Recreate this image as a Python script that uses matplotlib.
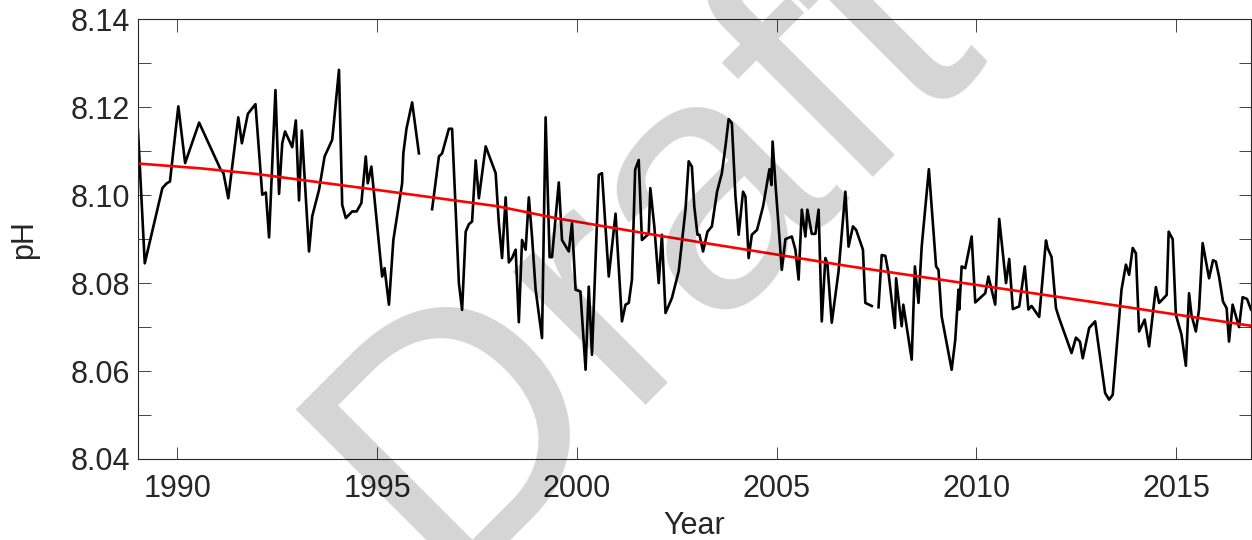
import numpy as np
import matplotlib.pyplot as plt

plt.rcParams['font.family'] = ['Liberation Sans', 'DejaVu Sans']

nan = np.nan

# pH record (nan marks a gap in the series)
year = [1989.02, 1989.19, 1989.63, 1989.74, 1989.82, 1990.03, 1990.20, 1990.55, 1991.09, 1991.16,
        1991.28, 1991.53, 1991.62, 1991.77, 1991.96, 1992.13, 1992.22, 1992.30, 1992.46, 1992.55,
        1992.63, 1992.70, 1992.88, 1992.97, 1993.05, 1993.12, 1993.30, 1993.38, 1993.55, 1993.69,
        1993.88, 1994.05, 1994.13, 1994.22, 1994.38, 1994.49, 1994.61, 1994.72, 1994.77, 1994.86,
        1995.13, 1995.19, 1995.30, 1995.41, 1995.63, 1995.66, 1995.74, 1995.88, 1996.05, nan,
        1996.38, 1996.55, 1996.63, 1996.80, 1996.88, 1997.05, 1997.13, 1997.22, 1997.30, 1997.38,
        1997.47, 1997.55, 1997.72, 1997.97, 1998.05, 1998.13, 1998.22, 1998.30, 1998.38, 1998.47,
        1998.55, 1998.63, 1998.72, 1998.80, 1998.88, 1998.97, 1999.13, 1999.22, 1999.32, 1999.38,
        1999.55, 1999.63, 1999.80, 1999.88, 1999.97, 2000.09, 2000.22, 2000.30, 2000.38, 2000.55,
        2000.63, 2000.80, 2000.97, 2001.13, 2001.22, 2001.30, 2001.38, 2001.46, 2001.55, 2001.63,
        2001.80, 2001.84, 2001.94, 2002.05, 2002.13, 2002.22, 2002.38, 2002.55, 2002.72, 2002.80,
        2002.88, 2002.94, 2003.02, 2003.07, 2003.16, 2003.27, 2003.38, 2003.51, 2003.63, 2003.72,
        2003.80, 2003.88, 2003.97, 2004.05, 2004.16, 2004.22, 2004.30, 2004.38, 2004.51, 2004.66,
        2004.82, 2004.87, 2004.90, 2004.97, 2005.13, 2005.22, 2005.38, 2005.47, 2005.55, 2005.63,
        2005.72, 2005.77, 2005.88, 2005.97, 2006.05, 2006.13, 2006.22, 2006.27, 2006.38, 2006.55,
        2006.72, 2006.80, 2006.91, 2006.99, 2007.16, 2007.22, 2007.38, nan,
        2007.55, 2007.63, 2007.72, 2007.80, 2007.96, 2007.99, 2008.07, 2008.13, 2008.17, 2008.38,
        2008.46, 2008.55, 2008.63, 2008.81, 2008.99, 2009.05, 2009.13, 2009.38, 2009.47, 2009.55,
        2009.57, 2009.63, 2009.72, 2009.88, 2009.97, 2010.22, 2010.30, 2010.47, 2010.57, 2010.74,
        2010.82, 2010.91, 2011.07, 2011.21, 2011.30, 2011.38, 2011.57, 2011.74, 2011.78, 2011.88,
        2011.99, 2012.07, 2012.38, 2012.49, 2012.59, 2012.66, 2012.82, 2012.97, 2013.22, 2013.32,
        2013.41, 2013.63, 2013.74, 2013.82, 2013.91, 2013.99, 2014.07, 2014.21, 2014.32, 2014.49,
        2014.57, 2014.76, 2014.81, 2014.91, 2014.99, 2015.13, 2015.24, 2015.32, 2015.38, 2015.49,
        2015.57, 2015.66, 2015.82, 2015.92, 2015.99, 2016.07, 2016.17, 2016.26, 2016.32, 2016.41,
        2016.57, 2016.66, 2016.77, 2016.87]

ph = [8.1148, 8.0845, 8.1016, 8.1027, 8.1031, 8.1202, 8.1073, 8.1165, 8.1058, 8.1050,
      8.0993, 8.1177, 8.1118, 8.1185, 8.1207, 8.1001, 8.1006, 8.0904, 8.1239, 8.1003,
      8.1118, 8.1145, 8.1109, 8.1170, 8.0988, 8.1147, 8.0872, 8.0952, 8.1012, 8.1088,
      8.1126, 8.1285, 8.0978, 8.0948, 8.0963, 8.0963, 8.0982, 8.1088, 8.1027, 8.1065,
      8.0815, 8.0834, 8.0751, 8.0898, 8.1027, 8.1095, 8.1152, 8.1211, 8.1095, nan,
      8.0968, 8.1088, 8.1095, 8.1151, 8.1151, 8.0800, 8.0739, 8.0917, 8.0934, 8.0940,
      8.1079, 8.0993, 8.1111, 8.1050, 8.0936, 8.0857, 8.0995, 8.0847, 8.0857, 8.0876,
      8.0711, 8.0898, 8.0876, 8.0995, 8.0906, 8.0785, 8.0675, 8.1177, 8.0859, 8.0859,
      8.1029, 8.0898, 8.0872, 8.0936, 8.0785, 8.0781, 8.0603, 8.0792, 8.0637, 8.1046,
      8.1050, 8.0815, 8.0958, 8.0713, 8.0751, 8.0755, 8.0808, 8.1058, 8.1080, 8.0898,
      8.0912, 8.1016, 8.0929, 8.0800, 8.0910, 8.0732, 8.0766, 8.0827, 8.0967, 8.1077,
      8.1065, 8.0974, 8.0910, 8.0910, 8.0872, 8.0917, 8.0929, 8.1008, 8.1050, 8.1111,
      8.1173, 8.1164, 8.0997, 8.0910, 8.1008, 8.0997, 8.0857, 8.0910, 8.0921, 8.0974,
      8.1059, 8.1023, 8.1122, 8.1027, 8.0830, 8.0900, 8.0906, 8.0876, 8.0808, 8.0967,
      8.0906, 8.0967, 8.0912, 8.0912, 8.0967, 8.0713, 8.0857, 8.0845, 8.0710, 8.0827,
      8.1008, 8.0883, 8.0929, 8.0921, 8.0876, 8.0755, 8.0748, nan,
      8.0745, 8.0864, 8.0862, 8.0823, 8.0698, 8.0811, 8.0747, 8.0702, 8.0751, 8.0626,
      8.0838, 8.0755, 8.0883, 8.1059, 8.0838, 8.0830, 8.0724, 8.0603, 8.0671, 8.0785,
      8.0740, 8.0838, 8.0834, 8.0906, 8.0756, 8.0777, 8.0815, 8.0751, 8.0946, 8.0800,
      8.0855, 8.0741, 8.0747, 8.0838, 8.0740, 8.0748, 8.0723, 8.0897, 8.0880, 8.0859,
      8.0743, 8.0720, 8.0641, 8.0676, 8.0667, 8.0629, 8.0698, 8.0713, 8.0550, 8.0535,
      8.0546, 8.0785, 8.0842, 8.0819, 8.0880, 8.0868, 8.0690, 8.0717, 8.0656, 8.0791,
      8.0755, 8.0773, 8.0917, 8.0900, 8.0728, 8.0683, 8.0612, 8.0777, 8.0728, 8.0690,
      8.0740, 8.0891, 8.0811, 8.0852, 8.0849, 8.0815, 8.0758, 8.0743, 8.0667, 8.0751,
      8.0700, 8.0768, 8.0764, 8.0740]

# long-term trend
trend_year = [1989.02, 1990.59, 1992.0, 1995.0, 1998.0, 1999.52, 2002.19, 2004.59,
              2006.84, 2009.84, 2012.84, 2016.87]
trend_ph = [8.1072, 8.1061, 8.1048, 8.1012, 8.0975, 8.0947, 8.0906, 8.0871,
            8.0838, 8.0798, 8.0758, 8.0703]

xticks = [1990, 1995, 2000, 2005, 2010, 2015]
yticks = np.arange(8.04, 8.1401, 0.01)
ylabels = ['8.04', '', '8.06', '', '8.08', '', '8.10', '', '8.12', '', '8.14']

fig = plt.figure(figsize=(12.52, 5.40), dpi=100)
ax = fig.add_axes([0.1102, 0.15, 0.889, 0.8143])

ax.plot(year, ph, color='black', lw=1.9)
ax.plot(trend_year, trend_ph, color='#ff0000', lw=1.9)

ax.set_xlim(1989.02, 2016.87)
ax.set_ylim(8.04, 8.14)
ax.set_xticks(xticks)
ax.set_yticks(yticks)
ax.set_yticklabels(ylabels)
ax.tick_params(direction='in', length=9, width=0.6, colors='#262626',
               labelsize=22, top=True, right=True)
ax.tick_params(axis='x', pad=11)
ax.tick_params(axis='y', pad=6)
for s in ax.spines.values():
    s.set_color('#262626')
    s.set_linewidth(0.8)

ax.set_xlabel('Year', fontsize=22, color='#262626', labelpad=5)
ax.set_ylabel('pH', fontsize=22, color='#262626', labelpad=22)

# watermark
fig.text(0.3514, -0.0778, 'Draft', fontsize=255, rotation=45, rotation_mode='anchor',
         ha='left', va='baseline', color='black', alpha=0.17, zorder=10)

fig.savefig('out.png', dpi=100)
